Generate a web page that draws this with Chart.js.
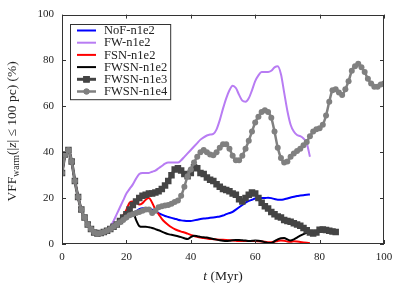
<!DOCTYPE html>
<html>
<head>
<meta charset="utf-8">
<script src="https://cdn.jsdelivr.net/npm/chart.js@4.4.1/dist/chart.umd.min.js"></script>
<style>
    html, body { margin: 0; padding: 0; background: #fff; }
    #wrap { width: 407px; height: 285px; }
</style>
</head>
<body>
<div id="wrap"><canvas id="chart-vff" width="407" height="285"></canvas></div>
<script>
// Tiempo (Myr)
const tMyr = [
    0, 1, 2, 3, 4, 5, 6, 7, 8, 9,
    10, 11, 12, 13, 14, 15, 16, 17, 18, 19,
    20, 21, 22, 23, 24, 25, 26, 27, 28, 29,
    30, 31, 32, 33, 34, 35, 36, 37, 38, 39,
    40, 41, 42, 43, 44, 45, 46, 47, 48, 49,
    50, 51, 52, 53, 54, 55, 56, 57, 58, 59,
    60, 61, 62, 63, 64, 65, 66, 67, 68, 69,
    70, 71, 72, 73, 74, 75, 76, 77, 78, 79,
    80, 81, 82, 83, 84, 85, 86, 87, 88, 89,
    90, 91, 92, 93, 94, 95, 96, 97, 98, 99,
    100
];

const xTicks = [0, 20, 40, 60, 80, 100];
const yTicks = [0, 20, 40, 60, 80, 100];

const seriesNames = ['NoF-n1e2', 'FW-n1e2', 'FSN-n1e2', 'FWSN-n1e2', 'FWSN-n1e3', 'FWSN-n1e4'];

const noF = [
    31, 39, 41, 36, 27.5, 20.5, 15, 11.5, 8.5, 6.5,
    5, 4.6, 4.8, 5.2, 5.8, 6.5, 7.2, 8, 9, 10,
    11, 12, 13, 14.3, 15.2, 15.6, 15.6, 15.5, 15, 14.3,
    13.5, 12.8, 12.2, 11.8, 11.4, 11, 10.6, 10.3, 10.1, 10,
    10, 10.3, 10.6, 10.9, 11.1, 11.2, 11.4, 11.6, 11.8, 12,
    12.4, 13, 13.5, 14, 15, 16, 17, 18, 18.8, 19.3,
    19.8, 20, 20, 20, 20.2, 20, 19.6, 19.3, 19.3, 19.5,
    19.8, 20.3, 20.6, 20.9, 21.1, 21.3, 21.5, 21.6
];

const fw = [
    31, 39, 41, 36, 27.5, 20.5, 15, 11.5, 8.5, 6.5,
    5, 4.6, 4.8, 5.2, 5.8, 7.5, 10, 13, 16, 19,
    22, 24, 26, 28.5, 30.5, 31, 31, 31, 31.5, 32,
    33, 34, 35, 35.5, 35.5, 35.5, 35.5, 36.5, 38, 39.5,
    41, 42.5, 44, 45.5, 46.5, 47.3, 47.7, 48, 50, 54,
    59, 63.5, 67, 69, 68, 65, 62.5, 62, 63.5, 67,
    71, 73.5, 75, 75, 75, 75.5, 77, 77.5, 74, 66,
    58, 52, 49, 47.5, 47, 46, 44, 38
];

const fsn = [
    31, 39, 41, 36, 27.5, 20.5, 15, 11.5, 8.5, 6.5,
    5, 4.6, 4.8, 5.2, 5.8, 6.5, 7.5, 8.5, 10, 12.5,
    15, 18, 18.5, 18.3, 17.2, 17.8, 19.3, 20, 18, 15,
    13, 11, 9.5, 8.3, 7.3, 6.5, 5.9, 5.4, 5, 4.5,
    4, 3.5, 3.1, 2.8, 2.6, 2.4, 2.2, 2.1, 2, 1.9,
    1.8, 1.7, 1.6, 1.5, 1.4, 1.3, 1.3, 1.3, 1.3, 1.3,
    1.3, 1.2, 1.1, 1, 0.8, 0.8, 1, 1.3, 1.5, 1.4,
    1.1, 1, 1.2, 1.1, 0.9, 0.7, 0.5, 0.3
];

const fwsn2 = [
    31, 39, 41, 36, 27.5, 20.5, 15, 11.5, 8.5, 6.5,
    5, 4.6, 4.8, 5.2, 5.8, 6.5, 7.5, 8.5, 10, 11.5,
    12.5, 13.8, 14, 10.5, 7.8, 7.5, 7.5, 7.3, 7, 6.5,
    6, 5.4, 4.8, 4.3, 4, 3.7, 3.4, 3, 2.5, 2.2,
    3, 3.6, 3.4, 3.1, 2.9, 2.8, 2.5, 2.2, 1.9, 1.6,
    1.4, 1.3, 1.4, 1.6, 1.7, 1.7, 1.6, 1.5, 1.3, 1.4,
    1.5, 1.4, 1.2, 0.8, 0.4, 0.5, 1.2, 2, 2.5, 2.6,
    2, 1.5, 2, 2.8, 3.6, 4.3, 4.9, 5.3
];

const fwsn3 = [
    31, 39, 41, 36, 27.5, 20.5, 15, 11.5, 8.5, 6.5,
    5, 4.6, 4.8, 5.2, 5.8, 6.5, 7.5, 8.5, 10, 11.5,
    13, 15, 17, 18.5, 20, 21, 21.5, 22, 22, 22.5,
    23, 24, 25.5, 27.5, 30, 32.5, 33, 32, 30.5, 29.5,
    31, 33.5, 33, 31, 30.5, 29, 28, 27.5, 26, 25,
    24, 23.5, 23, 22, 21.5, 19.5, 18.5, 20, 21.5, 22.5,
    22, 20, 18, 16.5, 15.5, 14, 13, 12, 11.5, 10.5,
    10, 9.7, 9, 8.5, 8, 7, 6, 5, 4.6, 5,
    6.2, 6.3, 6.1, 5.8, 5.4, 5.2
];

const fwsn4 = [
    31, 39, 41, 36, 27.5, 20.5, 15, 11.5, 8.5, 6.5,
    5, 4.6, 4.8, 5.2, 5.8, 6.5, 7.5, 8.5, 9.5, 10.5,
    11.5, 12.5, 13, 13.5, 14, 14.5, 15, 15, 13.5, 14.5,
    16, 16.5, 16.8, 17, 17.5, 18.3, 19, 21, 25, 29.5,
    32.5, 35.5, 38, 40, 41, 40, 39, 38.7, 40, 42,
    43.5, 43.5, 41.5, 38.5, 36.5, 36.5, 38.5, 41.5, 45, 49,
    53, 55.5, 57.5, 58.3, 57.5, 55, 49, 42, 37.5, 35.5,
    36, 38, 39.5, 40.5, 41.5, 43, 44.5, 47, 49, 50,
    50.5, 52, 56, 62, 67, 67.5, 66, 65, 67.5, 71,
    75.5, 77.5, 78.6, 77, 75, 72, 70, 68.5, 68.5, 69.5,
    70
];

const SERIF = '"Liberation Serif", "DejaVu Serif", serif';

function toPoints(values) {
    return values.map((v, i) => ({ x: tMyr[i], y: v }));
}

function dataset(label, values, color, width, order, marker, radius) {
    return {
        label: label,
        data: toPoints(values),
        borderColor: color,
        backgroundColor: color,
        borderWidth: width,
        pointStyle: marker || 'circle',
        pointRadius: radius || 0,
        pointBorderWidth: 0,
        pointHoverRadius: 0,
        cubicInterpolationMode: 'monotone',
        fill: false,
        order: order,
    };
}

// texto con partes en cursiva / subindice
function drawRich(ctx, parts, x, y, align) {
    let total = 0;
    parts.forEach((p) => {
        ctx.font = p.font;
        p.w = ctx.measureText(p.text).width;
        total += p.w;
    });
    let cx = align === 'center' ? x - total / 2 : x;
    parts.forEach((p) => {
        ctx.font = p.font;
        ctx.fillText(p.text, cx, y + (p.dy || 0));
        cx += p.w;
    });
}

const decorPlugin = {
    id: 'decor',
    afterDraw(chart) {
        const ctx = chart.ctx;
        const a = chart.chartArea;
        const xs = chart.scales.x;
        const ys = chart.scales.y;
        ctx.save();

        // marco y ticks hacia dentro
        ctx.strokeStyle = '#333';
        ctx.lineWidth = 1;
        ctx.strokeRect(Math.round(a.left) + 0.5, Math.round(a.top) + 0.5,
            Math.round(a.right - a.left) - 1, Math.round(a.bottom - a.top) - 1);
        ctx.beginPath();
        xTicks.forEach((v) => {
            const px = Math.round(xs.getPixelForValue(v)) + 0.5;
            ctx.moveTo(px, a.bottom); ctx.lineTo(px, a.bottom - 4);
            ctx.moveTo(px, a.top); ctx.lineTo(px, a.top + 4);
        });
        yTicks.forEach((v) => {
            const py = Math.round(ys.getPixelForValue(v)) + 0.5;
            ctx.moveTo(a.left, py); ctx.lineTo(a.left + 4, py);
            ctx.moveTo(a.right, py); ctx.lineTo(a.right - 4, py);
        });
        ctx.stroke();

        // titulos de ejes
        ctx.fillStyle = '#222';
        ctx.textBaseline = 'alphabetic';
        drawRich(ctx, [
            { text: 't', font: 'italic 13.5px ' + SERIF },
            { text: ' (Myr)', font: '13.5px ' + SERIF },
        ], (a.left + a.right) / 2, 280, 'center');

        ctx.save();
        ctx.translate(16, (a.top + a.bottom) / 2 + 2);
        ctx.rotate(-Math.PI / 2);
        drawRich(ctx, [
            { text: 'VFF', font: '13.5px ' + SERIF },
            { text: 'warm', font: '9.5px ' + SERIF, dy: 3 },
            { text: '(|', font: '13.5px ' + SERIF },
            { text: 'z', font: 'italic 13.5px ' + SERIF },
            { text: '| \u2264 100 pc) (%)', font: '13.5px ' + SERIF },
        ], 0, 0, 'center');
        ctx.restore();

        // leyenda
        const items = chart.data.datasets.map((d) => d);
        ctx.font = '12.5px ' + SERIF;
        const textW = Math.max(...items.map((d) => ctx.measureText(d.label).width));
        const bx = 70.5, by = 24.5, rowH = 12.2;
        const bw = 104 - 70 + textW + 3;
        const bh = rowH * items.length + 2;
        ctx.fillStyle = '#fff';
        ctx.fillRect(bx, by, bw, bh);
        ctx.strokeStyle = '#333';
        ctx.strokeRect(bx, by, bw, bh);
        items.forEach((d, i) => {
            const cy = by + 6 + i * rowH;
            ctx.strokeStyle = d.borderColor;
            ctx.lineWidth = d.borderWidth;
            ctx.beginPath();
            ctx.moveTo(77, cy); ctx.lineTo(96, cy);
            ctx.stroke();
            if (d.pointRadius > 0) {
                ctx.fillStyle = d.borderColor;
                Chart.helpers.drawPoint(ctx, { pointStyle: d.pointStyle, radius: d.pointRadius, rotation: 0, borderWidth: 0 }, 86.5, cy);
                ctx.fill();
            }
            ctx.fillStyle = '#222';
            ctx.textBaseline = 'middle';
            ctx.font = '12.5px ' + SERIF;
            ctx.fillText(d.label, 104, cy + 0.5);
        });
        ctx.restore();
    }
};

function vffChart() {
    const ctx = document.getElementById('chart-vff').getContext('2d');
    const chart = new Chart(ctx, {
        type: 'line',
        data: {
            datasets: [
                dataset(seriesNames[0], noF, '#0000ff', 2, 6),
                dataset(seriesNames[1], fw, '#b87cf3', 2, 5),
                dataset(seriesNames[2], fsn, '#ff0000', 2, 4),
                dataset(seriesNames[3], fwsn2, '#000000', 2, 3),
                dataset(seriesNames[4], fwsn3, '#444444', 3, 2, 'rect', 4.6),
                dataset(seriesNames[5], fwsn4, '#808080', 2.5, 1, 'circle', 3),
            ]
        },
        options: {
            responsive: false,
            animation: false,
            events: [],
            layout: { padding: { left: 0, right: 23, top: 14, bottom: 0 } },
            plugins: {
                legend: { display: false },
                tooltip: { enabled: false },
            },
            scales: {
                x: {
                    type: 'linear',
                    min: 0,
                    max: 100,
                    grid: { display: false, drawTicks: false },
                    border: { display: false },
                    afterBuildTicks: (s) => { s.ticks = xTicks.map((v) => ({ value: v })); },
                    afterFit: (s) => { s.height = 41; },
                    ticks: { padding: 7, color: '#222', font: { family: SERIF, size: 11 } },
                },
                y: {
                    min: 0,
                    max: 100,
                    grid: { display: false, drawTicks: false },
                    border: { display: false },
                    afterBuildTicks: (s) => { s.ticks = yTicks.map((v) => ({ value: v })); },
                    afterFit: (s) => { s.width = 62; },
                    ticks: { padding: 8, color: '#222', font: { family: SERIF, size: 11 } },
                }
            }
        },
        plugins: [decorPlugin]
    });
}

vffChart();
</script>
</body>
</html>
